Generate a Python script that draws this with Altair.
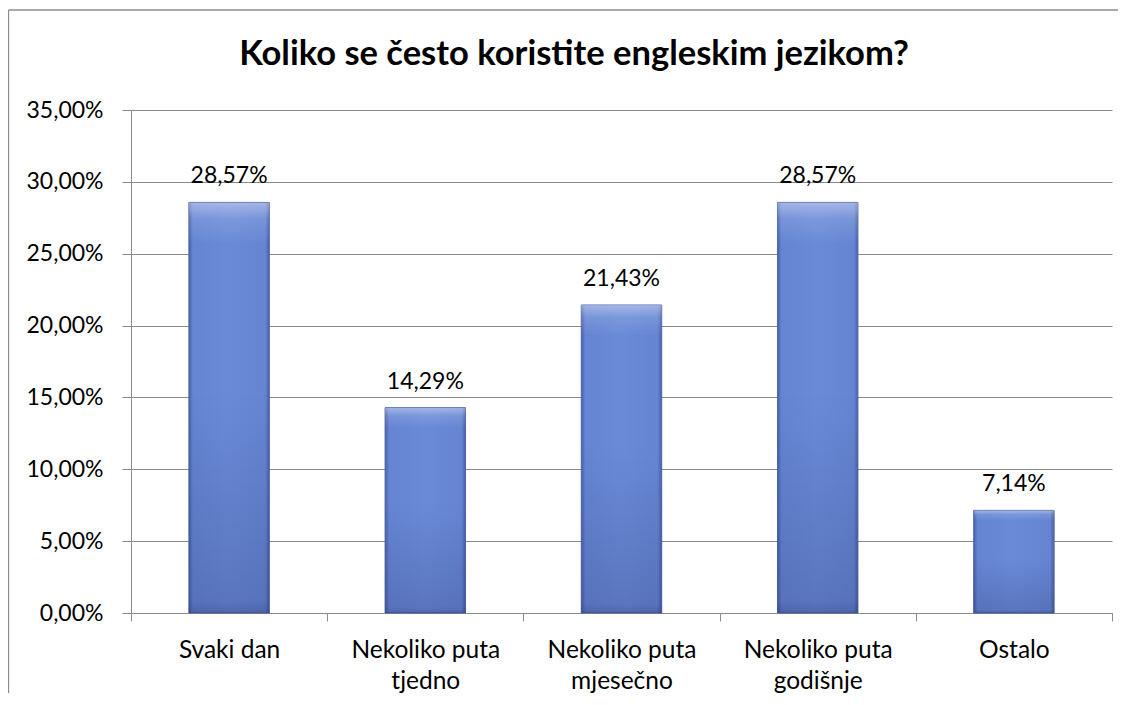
import altair as alt
import pandas as pd

categories = ["Svaki dan", "Nekoliko puta tjedno", "Nekoliko puta mjesečno",
              "Nekoliko puta godišnje", "Ostalo"]
values = [0.2857, 0.1429, 0.2143, 0.2857, 0.0714]
y_ticks = [0, 0.05, 0.10, 0.15, 0.20, 0.25, 0.30, 0.35]
title_text = "Koliko se često koristite engleskim jezikom?"

df = pd.DataFrame({"cat": categories, "val": values})

FONT = "Lato"
GRID = "#8a8a8a"

x_enc = alt.X(
    "cat:N", sort=None, title=None,
    scale=alt.Scale(paddingInner=0, paddingOuter=0),
    axis=alt.Axis(
        tickBand="extent", domainColor=GRID, tickColor=GRID, tickSize=8,
        labelFont=FONT, labelFontSize=24.5, labelColor="black", labelPadding=17,
        labelLineHeight=31, labelAngle=0, labelLimit=300, grid=False,
        labelExpr="indexof(datum.label, 'Nekoliko puta ') == 0 ? ['Nekoliko puta', substring(datum.label, 14)] : datum.label",
    ),
)
x_plain = alt.X("cat:N", sort=None)
y_enc = alt.Y(
    "val:Q", title=None,
    scale=alt.Scale(domain=[0, 0.35], nice=False),
    axis=alt.Axis(
        values=y_ticks, domainColor=GRID, tickColor=GRID, tickSize=9,
        gridColor=GRID, gridWidth=1, labelFont=FONT, labelFontSize=23,
        labelColor="black", labelPadding=19,
        labelExpr="replace(format(datum.value, '.2%'), '.', ',')",
    ),
)

base = alt.Chart(df)

bars = base.mark_bar(
    width=alt.RelativeBandSize(0.41),
    fill=alt.Gradient(
        gradient="linear", x1=0, x2=1, y1=0, y2=0,
        stops=[
            alt.GradientStop(color="#4a60a8", offset=0),
            alt.GradientStop(color="#6585d3", offset=0.05),
            alt.GradientStop(color="#6a8ad8", offset=0.5),
            alt.GradientStop(color="#6585d3", offset=0.95),
            alt.GradientStop(color="#4a60a8", offset=1),
        ],
    ),
    stroke="#4d64aa", strokeWidth=1,
).encode(x=x_enc, y=y_enc)

overlay = base.mark_bar(
    width=alt.RelativeBandSize(0.41),
    fill=alt.Gradient(
        gradient="linear", x1=0, x2=0, y1=0, y2=1,
        stops=[
            alt.GradientStop(color="rgba(255,255,255,0.40)", offset=0),
            alt.GradientStop(color="rgba(255,255,255,0.12)", offset=0.04),
            alt.GradientStop(color="rgba(255,255,255,0.0)", offset=0.1),
            alt.GradientStop(color="rgba(0,0,40,0.0)", offset=0.45),
            alt.GradientStop(color="rgba(0,0,40,0.14)", offset=0.97),
            alt.GradientStop(color="rgba(0,0,40,0.25)", offset=1),
        ],
    ),
).encode(x=x_plain, y="val:Q")

labels = base.transform_calculate(
    lbl="replace(format(datum.val, '.2%'), '.', ',')"
).mark_text(
    font=FONT, fontSize=23, color="black", baseline="alphabetic", dy=-19
).encode(x=x_plain, y="val:Q", text="lbl:N")

single = alt.Chart(alt.Data(values=[{"t": title_text}]))
title_mark = single.mark_text(
    font=FONT, fontSize=34.5, fontWeight="bold", color="black",
    align="center", baseline="alphabetic",
).encode(x=alt.value(443), y=alt.value(-45), text="t:N")

frame_top = single.mark_rule(color="#8c8c8c", strokeWidth=1.3).encode(
    x=alt.value(-122.5), x2=alt.value(1010), y=alt.value(-100)
)
frame_left = single.mark_rule(color="#8c8c8c", strokeWidth=1.3).encode(
    x=alt.value(-122.5), y=alt.value(-100), y2=alt.value(600)
)

chart = alt.layer(bars, overlay, labels, title_mark, frame_top, frame_left).properties(
    width=981, height=503,
    autosize=alt.AutoSizeParams(type="none"),
    padding={"left": 123, "top": 102, "right": 6, "bottom": 80},
).configure_view(stroke=None)

chart.save("out.html", embed_options={"renderer": "svg", "actions": False})
